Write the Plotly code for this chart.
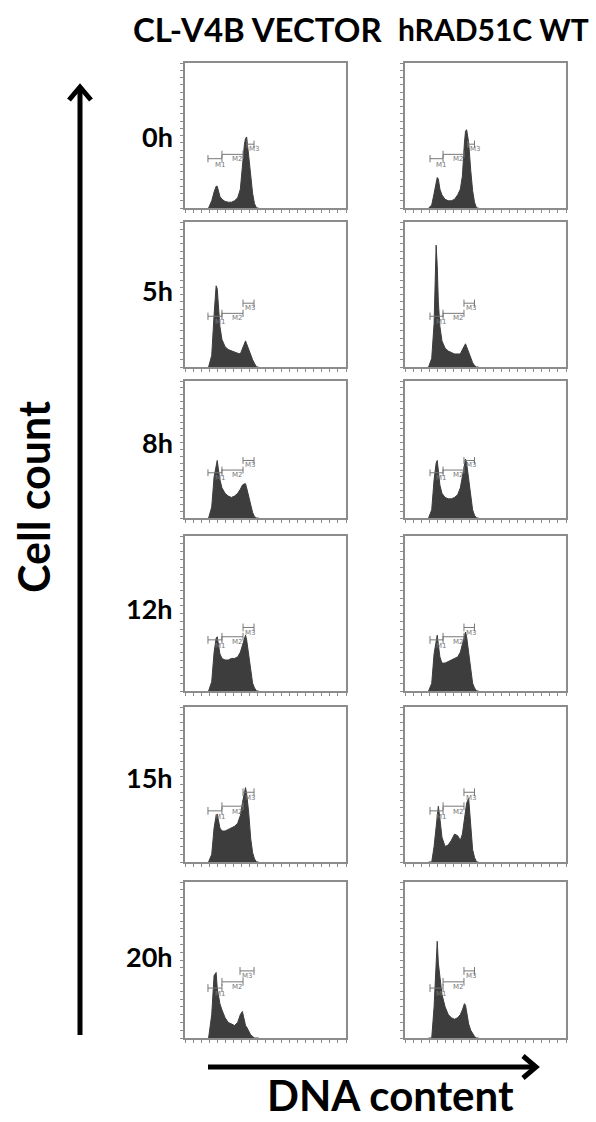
import plotly.graph_objects as go

W, H = 596, 1122

# ---------------- data ----------------
COLUMNS = ["CL-V4B VECTOR", "hRAD51C WT"]
ROWS = ["0h", "5h", "8h", "12h", "15h", "20h"]
# DNA content channel grid (0-1023 scale)
CHANNELS = [150, 170, 185, 198, 205, 212, 222, 235, 255, 275, 295, 315,
            335, 352, 365, 378, 385, 392, 405, 418, 430, 442, 455, 468]
# cell counts, % of axis height
VEC_0h = [0, 5, 11, 15, 15, 11, 8, 6, 4.5, 4, 4, 5, 7, 13, 30, 44, 48, 49, 36, 22, 10, 3, 0, 0]
WT_0h = [0, 2, 10, 18, 21, 20, 13, 9, 6, 5, 5, 6, 9, 13, 22, 45, 53, 54, 45, 26, 12, 4, 0, 0]
VEC_5h = [0, 8, 36, 56, 54, 42, 28, 19, 14, 12, 11, 10, 9.5, 9, 13, 17, 18, 16, 12, 8, 5, 2.5, 0, 0]
WT_5h = [0, 6, 30, 84, 70, 45, 28, 18, 13, 11, 10, 9, 9, 9, 12, 15, 16, 14, 10, 6, 3, 1, 0, 0]
VEC_8h = [0, 8, 30, 40, 42, 36, 28, 22, 18, 16, 15, 16, 18, 21, 24, 25, 25, 22, 15, 8, 4, 1, 0, 0]
WT_8h = [0, 6, 28, 40, 42, 34, 24, 18, 15, 14, 14, 15, 17, 22, 30, 40, 43, 40, 28, 14, 6, 2, 0, 0]
VEC_12h = [0, 6, 25, 34, 35, 30, 24, 21, 20, 20, 21, 21, 22, 25, 30, 35, 36, 33, 24, 12, 5, 2, 0, 0]
WT_12h = [0, 5, 24, 34, 36, 30, 22, 18, 18, 19, 20, 21, 22, 25, 30, 36, 38, 35, 25, 12, 5, 2, 0, 0]
VEC_15h = [0, 5, 22, 30, 31, 27, 22, 20, 20, 21, 22, 23, 25, 30, 38, 46, 48, 44, 32, 15, 6, 2, 0, 0]
WT_15h = [0, 0, 10, 25, 33, 36, 28, 16, 10, 11, 14, 18, 17, 14, 18, 28, 33, 38, 41, 25, 8, 3, 0, 0]
VEC_20h = [0, 15, 40, 42, 32, 27, 22, 18, 13, 10, 9, 8, 10, 15, 17, 11, 8, 7, 4, 2, 1, 0, 0, 0]
WT_20h = [0, 0, 20, 50, 62, 48, 38, 28, 20, 15, 13, 12, 13, 15, 18, 22, 21, 16, 9, 5, 3, 1, 0, 0]

VECTOR_SERIES = [VEC_0h, VEC_5h, VEC_8h, VEC_12h, VEC_15h, VEC_20h]
WT_SERIES = [WT_0h, WT_5h, WT_8h, WT_12h, WT_15h, WT_20h]

# marker gates (channel ranges) per column
GATE_NAMES = ["M1", "M2", "M3"]
GATES_VEC = [[146, 235], [235, 369], [369, 439]]
GATES_WT = [[159, 242], [242, 375], [375, 442]]
M3_START_VEC = [394, 369, 369, 369, 369, 350]
M3_START_WT = [400, 375, 375, 375, 375, 375]
# gate bar heights (% of axis) per row
GATE_Y = [[34, 37, 44], [35, 37, 44], [33, 35, 42], [33, 35, 41], [33, 36, 45], [32, 36, 43]]

# ---------------- layout geometry (pixels) ----------------
COL_X = [(185, 346), (405, 566)]
ROW_Y = [(63, 208), (222, 367), (381, 518), (536, 691), (707, 862), (882, 1038)]
ROW_LABEL_Y = [137, 290, 443, 608, 777, 956]

def px(x):
    return x / W

def py(y):
    return 1 - y / H

FILL = "#3d3d3d"
FRAME = "#8c8c8c"
GATE_C = "#777777"

fig = go.Figure()
layout = {}
annotations = []
n = 0
for r in range(len(ROWS)):
    for c in range(2):
        n += 1
        xa = "x" if n == 1 else f"x{n}"
        ya = "y" if n == 1 else f"y{n}"
        xkey = "xaxis" if n == 1 else f"xaxis{n}"
        ykey = "yaxis" if n == 1 else f"yaxis{n}"
        series = VECTOR_SERIES[r] if c == 0 else WT_SERIES[r]
        fig.add_trace(go.Scatter(
            x=CHANNELS, y=series, mode="lines", fill="tozeroy",
            line=dict(color=FILL, width=1), fillcolor=FILL,
            xaxis=xa, yaxis=ya, showlegend=False, hoverinfo="skip"))
        # gates
        gates = [list(g) for g in (GATES_VEC if c == 0 else GATES_WT)]
        gates[2][0] = (M3_START_VEC if c == 0 else M3_START_WT)[r]
        gx, gy = [], []
        for gi, (g0, g1) in enumerate(gates):
            yv = GATE_Y[r][gi]
            gx += [g0, g1, None, g0, g0, None, g1, g1, None]
            gy += [yv, yv, None, yv - 2.5, yv + 2.5, None, yv - 2.5, yv + 2.5, None]
        fig.add_trace(go.Scatter(
            x=gx, y=gy, mode="lines", line=dict(color=GATE_C, width=1),
            xaxis=xa, yaxis=ya, showlegend=False, hoverinfo="skip"))
        label_x = [gates[0][1] - 8, gates[1][1] - 35, gates[2][0] + 48]
        label_dy = [-4, -3.5, -3.5]
        for gi, name in enumerate(GATE_NAMES):
            annotations.append(dict(
                x=label_x[gi], y=GATE_Y[r][gi] + label_dy[gi], xref=xa, yref=ya,
                xanchor="center", yanchor="middle",
                text=name, showarrow=False, font=dict(size=7, color=GATE_C,
                                                     family="DejaVu Sans")))
        x0, x1 = COL_X[c]
        y0, y1 = ROW_Y[r]
        layout[xkey] = dict(domain=[px(x0), px(x1)], range=[0, 1024], anchor=ya,
                            showgrid=False, zeroline=False, showticklabels=False,
                            ticks="outside", ticklen=3, tickcolor=FRAME, tickwidth=1,
                            dtick=51.2, tick0=0,
                            showline=True, linecolor=FRAME, linewidth=1.5, mirror=True)
        layout[ykey] = dict(domain=[py(y1), py(y0)], range=[0, 100], anchor=xa,
                            showgrid=False, zeroline=False, showticklabels=False,
                            ticks="outside", ticklen=3, tickcolor=FRAME, tickwidth=1,
                            dtick=5, tick0=0,
                            showline=True, linecolor=FRAME, linewidth=1.5, mirror=True)

BOLD = "Lato"
# column headers
annotations.append(dict(x=px(258), y=py(29), xref="paper", yref="paper",
                        xanchor="center", yanchor="middle",
                        text=f"<b>{COLUMNS[0]}</b>", showarrow=False,
                        font=dict(size=33, color="black", family=BOLD)))
annotations.append(dict(x=px(591), y=py(29), xref="paper", yref="paper",
                        xanchor="right", yanchor="middle",
                        text=f"<b>{COLUMNS[1]}</b>", showarrow=False,
                        font=dict(size=30, color="black", family=BOLD)))
# row labels
for r, name in enumerate(ROWS):
    annotations.append(dict(x=px(175), y=py(ROW_LABEL_Y[r]), xref="paper", yref="paper",
                            xanchor="right", yanchor="middle",
                            text=f"<b>{name}</b>", showarrow=False,
                            font=dict(size=27, color="black", family=BOLD)))
# axis titles
annotations.append(dict(x=px(34), y=py(497), xref="paper", yref="paper", textangle=-90,
                        xanchor="center", yanchor="middle",
                        text="<b>Cell count</b>", showarrow=False,
                        font=dict(size=43, color="black", family=BOLD)))
annotations.append(dict(x=px(390), y=0, xref="paper", yref="paper",
                        xanchor="center", yanchor="bottom",
                        text="<b>DNA content</b>", showarrow=False,
                        font=dict(size=42, color="black", family=BOLD)))

def ppath(points):
    return "M" + " L".join(f"{px(x)},{py(y)}" for x, y in points)

shapes = [
    dict(type="line", xref="paper", yref="paper", x0=px(80), x1=px(80),
         y0=py(1035), y1=py(88), line=dict(color="black", width=5)),
    dict(type="path", xref="paper", yref="paper",
         path=ppath([(69, 100), (80, 87), (91, 100)]), line=dict(color="black", width=5)),
    dict(type="line", xref="paper", yref="paper", x0=px(208), x1=px(535),
         y0=py(1067), y1=py(1067), line=dict(color="black", width=5)),
    dict(type="path", xref="paper", yref="paper",
         path=ppath([(523, 1056), (536, 1067), (523, 1078)]), line=dict(color="black", width=5)),
]

fig.update_layout(width=W, height=H, margin=dict(l=0, r=0, t=0, b=0),
                  paper_bgcolor="white", plot_bgcolor="white",
                  annotations=annotations, shapes=shapes, **layout)
fig.write_html("out.html", config={"displayModeBar": False},
               post_script="document.body.style.margin='0px';document.body.style.overflow='hidden';")
